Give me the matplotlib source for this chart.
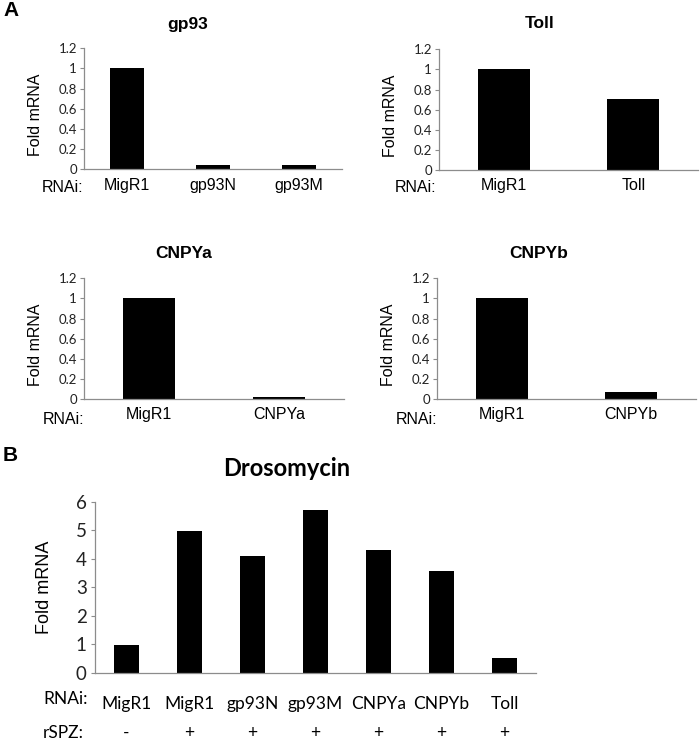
import matplotlib
matplotlib.use('Agg')
import matplotlib.pyplot as plt
import matplotlib.transforms as mtransforms

W, H = 700, 743

# panel A data
gp93_labels = ['MigR1', 'gp93N', 'gp93M']
gp93_vals = [1.0, 0.04, 0.04]
toll_labels = ['MigR1', 'Toll']
toll_vals = [1.0, 0.71]
cnpya_labels = ['MigR1', 'CNPYa']
cnpya_vals = [1.0, 0.022]
cnpyb_labels = ['MigR1', 'CNPYb']
cnpyb_vals = [1.0, 0.07]

# panel B data
dros_labels = ['MigR1', 'MigR1', 'gp93N', 'gp93M', 'CNPYa', 'CNPYb', 'Toll']
dros_vals = [0.98, 4.96, 4.1, 5.71, 4.32, 3.57, 0.5]
rspz = ['-', '+', '+', '+', '+', '+', '+']

axis_col = '#8c8c8c'
arial = 'Liberation Sans'
calib = 'Lato'


def px(x, y):
    return x / W, 1 - y / H


def box(l, t, r, b):
    return [l / W, 1 - b / H, (r - l) / W, (b - t) / H]


fig = plt.figure(figsize=(7, 7.43), dpi=100)


def small_panel(rect, labels, vals, title, tpos, rpos):
    ax = fig.add_axes(box(*rect))
    ax.bar(range(len(vals)), vals, width=0.4, color='black')
    ax.set_xlim(-0.5, len(vals) - 0.5)
    ax.set_ylim(0, 1.2)
    ax.set_yticks([0, 0.2, 0.4, 0.6, 0.8, 1.0, 1.2])
    ax.set_yticklabels(['0', '0.2', '0.4', '0.6', '0.8', '1', '1.2'],
                       fontfamily=calib, fontsize=9.5, color='#222')
    ax.set_xticks(range(len(vals)))
    ax.set_xticklabels(labels, fontfamily=arial, fontsize=11.5)
    ax.tick_params(axis='x', length=0, pad=6)
    ax.tick_params(axis='y', length=3, width=0.8, color=axis_col, pad=2)
    for s in ['top', 'right']:
        ax.spines[s].set_visible(False)
    for s in ['left', 'bottom']:
        ax.spines[s].set_color(axis_col)
        ax.spines[s].set_linewidth(0.9)
    ax.set_ylabel('Fold mRNA', fontfamily=arial, fontsize=11.5)
    ax.yaxis.set_label_coords(-41 / (rect[2] - rect[0]), 0.45)
    fig.text(*px(*tpos), title, ha='center', va='center',
             fontfamily=arial, fontsize=12.5, fontweight='bold')
    fig.text(*px(*rpos), 'RNAi:', ha='left', va='center',
             fontfamily=arial, fontsize=11.5)
    return ax


small_panel((84, 48.3, 342, 169.3), gp93_labels, gp93_vals, 'gp93', (188, 25), (42, 188))
small_panel((439, 49.3, 698, 170), toll_labels, toll_vals, 'Toll', (540, 24), (395, 188))
small_panel((84, 278.3, 344, 399), cnpya_labels, cnpya_vals, 'CNPYa', (184, 253), (43, 419))
small_panel((437, 278.3, 696, 399), cnpyb_labels, cnpyb_vals, 'CNPYb', (539, 253), (396, 419))

fig.text(*px(3, 10), 'A', ha='left', va='center', fontfamily=arial,
         fontsize=15, fontweight='bold')
fig.text(*px(3, 455), 'B', ha='left', va='center', fontfamily=arial,
         fontsize=15, fontweight='bold')

# panel B
axb = fig.add_axes(box(95, 501.7, 536, 672.7))
xs = range(len(dros_vals))
axb.bar(xs, dros_vals, width=0.4, color='black')
axb.set_xlim(-0.5, len(dros_vals) - 0.5)
axb.set_ylim(0, 6)
axb.set_yticks(range(7))
axb.set_yticklabels([str(v) for v in range(7)], fontfamily=calib, fontsize=13.5, color='#222')
axb.set_xticks(list(xs))
axb.set_xticklabels(dros_labels, fontfamily=calib, fontsize=12.5)
axb.tick_params(axis='x', length=0, pad=17)
axb.tick_params(axis='y', length=3, width=0.8, color=axis_col, pad=3)
for s in ['top', 'right']:
    axb.spines[s].set_visible(False)
for s in ['left', 'bottom']:
    axb.spines[s].set_color(axis_col)
    axb.spines[s].set_linewidth(0.9)
axb.set_ylabel('Fold mRNA', fontfamily=arial, fontsize=13)
axb.yaxis.set_label_coords(-42 / 441, 0.5)

trans = mtransforms.blended_transform_factory(axb.transData, fig.transFigure)
for x, s in zip(xs, rspz):
    axb.text(x, 1 - 733 / H, s, transform=trans, ha='center', va='center',
             fontfamily=calib, fontsize=12.5)

fig.text(*px(286.5, 469), 'Drosomycin', ha='center', va='center',
         fontfamily=calib, fontsize=17, fontweight='bold')
fig.text(*px(43, 699), 'RNAi:', ha='left', va='center', fontfamily=calib, fontsize=12.5)
fig.text(*px(43, 733), 'rSPZ:', ha='left', va='center', fontfamily=calib, fontsize=12.5)

fig.savefig('out.png', dpi=100, facecolor='white')
